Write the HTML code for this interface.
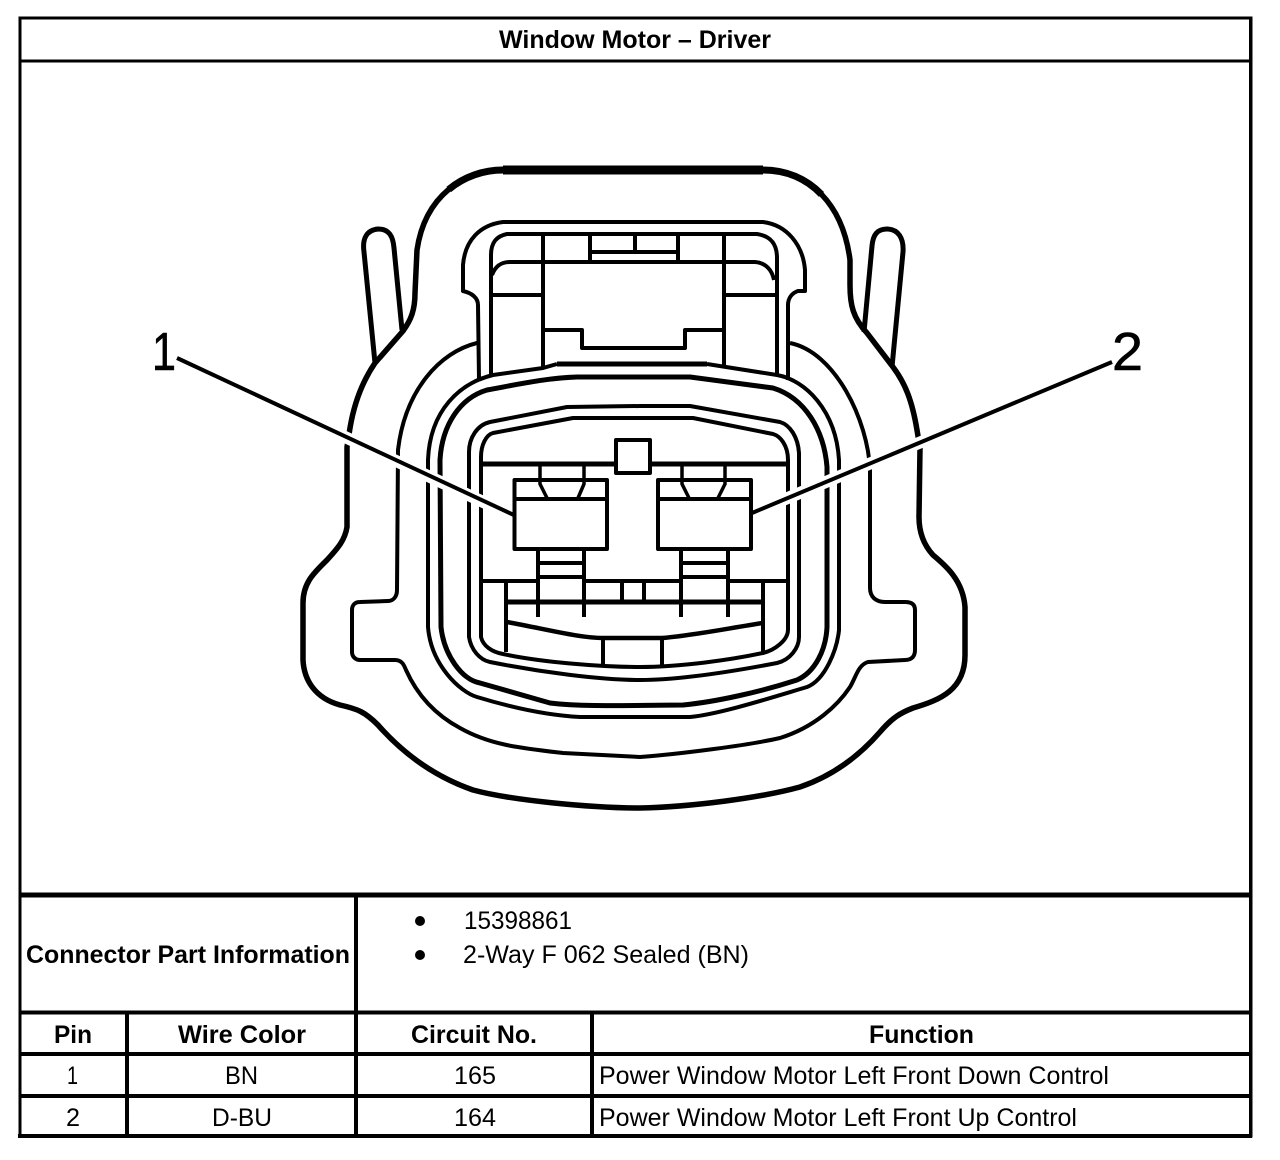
<!DOCTYPE html>
<html>
<head>
<meta charset="utf-8">
<style>
html,body{margin:0;padding:0;background:#fff;}
svg{display:block;}
text{font-family:"Liberation Sans",Arial,sans-serif;fill:#000;}
.b{font-weight:bold;font-size:25px;}
.r{font-size:25px;}
.d{fill:none;stroke:#000;stroke-linejoin:round;stroke-linecap:butt;}
</style>
</head>
<body>
<svg xmlns="http://www.w3.org/2000/svg" width="1280" height="1160" viewBox="0 0 1280 1160">
<rect width="1280" height="1160" fill="#fff"/>

<!-- connector drawing -->
<g class="d" stroke-width="4">
  <!-- outer body -->
  <path stroke-width="5.500" d="M503,170 C465,170 425,195 417,250 L415,293 C415,310 411,320 403,331 L375,363 C360,385 353,410 350,428 L347,447 L347,527 C345,540 338,548 327,560 C315,572 303,582 303,603 L303,660 C304,680 315,698 340,705 C358,709 365,712 378,725 C400,750 430,775 473,790 C510,800 590,808 640,808 C690,807 760,798 800,787 C835,775 860,755 880,732 C892,718 900,713 913,708 C940,700 965,690 965,655 L965,607 C963,580 945,565 933,555 C922,543 919,530 919,517 L920,448 L917,430 C912,400 905,383 893,367 L867,333 C853,318 850,305 850,285 L850,260 C843,205 810,170 763,170 Z"/>
  <line x1="503" y1="170" x2="763" y2="170" stroke-width="9"/>
  <path stroke-width="7" d="M503,170 C484,170 464.500,176.250 448.750,189.400"/>
  <path stroke-width="7" d="M763,170 C786.500,170 806.500,178.750 821.500,194.400"/>
  <!-- ears -->
  <path stroke-width="5" d="M375,363 L364,252 C362,238 367,230 378,229 C389,229 393,236 394,248 L402,330"/>
  <path stroke-width="5" d="M892,367 L903,252 C904,238 898,229 887,229 C877,229 873,235 872,246 L864,332"/>
  <!-- shroud -->
  <path d="M479,380 L478,305 C478,298 472,293 463,291 L463,265 C465,240 480,225 503,222 L763,222 C787,225 803,245 805,270 L805,291 L798,291 C792,293 788,298 788,305 L788,380"/>
  <path d="M491,375 L491,255 C491,242 497,236 507,234 L757,234 C770,236 777,243 777,258 L777,375"/>
  <path d="M492,275 C495,267 500,262 510,262 L755,262 C766,263 772,270 774,280"/>
  <line x1="491" y1="295" x2="543" y2="295"/>
  <line x1="724" y1="295" x2="777" y2="295"/>
  <line x1="543" y1="234" x2="543" y2="368"/>
  <line x1="724" y1="234" x2="724" y2="368"/>
  <line x1="590" y1="234" x2="590" y2="262"/>
  <line x1="678" y1="234" x2="678" y2="262"/>
  <line x1="590" y1="252" x2="678" y2="252"/>
  <line x1="635" y1="234" x2="635" y2="252"/>
  <polyline points="543,330 582,330 582,348 685,348 685,330 724,330"/>
  <!-- flange arc -->
  <path d="M477,343 C440,352 405,390 398,450 L397,590 C397,597 393,601 388,601 L360,602 C355,602 352,605 352,610 L352,652 C352,657 356,660 360,660 L395,660 C402,660 404,665 406,670 C415,690 430,712 460,728 C490,745 520,748 563,753 L640,757 C680,754 750,745 780,738 C815,727 838,705 850,687 C856,677 858,665 868,662 L905,660 C912,660 915,656 915,650 L915,610 C915,604 911,602 905,602 L885,602 C876,602 870,597 870,588 L870,470 C868,420 835,352 790,343"/>
  <!-- seal curves -->
  <line x1="557" y1="364" x2="707" y2="364" stroke-width="5"/>
  <path d="M557,364 L543,368 L493,375 C460,383 430,410 428,460 L428,627 C431,665 460,692 477,697 C500,704 540,715 580,717 L690,717 C720,714 770,698 807,687 C825,680 837,650 839,630 L839,460 C836,410 805,380 777,375 L707,364"/>
  <path stroke-width="5" d="M690,377 L577,377 C545,378 515,385 487,390 C460,398 442,425 440,460 L441,627 C444,655 462,680 480,683 L550,703 C575,706 600,706 683,705 C715,702 760,692 797,680 C815,672 826,650 827,627 L827,467 C824,430 805,398 773,388 Z"/>
  <path d="M640,406 L567,407 L490,422 C477,425 469,438 469,452 L469,637 C471,650 480,660 490,662 C540,672 600,680 640,680 C680,680 730,672 777,663 C790,660 799,648 799,637 L799,453 C798,437 790,425 780,422 L690,406 Z"/>
  <path d="M640,418 L573,418 L493,433 C486,435 481,445 481,457 L481,637 C483,646 492,652 503,654 C540,662 600,667 640,667 C680,667 730,660 763,653 C775,650 788,640 788,630 L788,460 C788,445 780,436 773,434 L693,418 Z"/>
  <!-- interior -->
  <line x1="481" y1="464" x2="788" y2="464" stroke-width="5"/>
  <line x1="481" y1="581" x2="538" y2="581"/>
  <line x1="584" y1="581" x2="681" y2="581"/>
  <line x1="728" y1="581" x2="788" y2="581"/>
  <line x1="506" y1="602" x2="763" y2="602" stroke-width="5"/>
  <line x1="506" y1="581" x2="506" y2="652"/>
  <line x1="763" y1="581" x2="763" y2="652"/>
  <line x1="622" y1="581" x2="622" y2="602"/>
  <line x1="644" y1="581" x2="644" y2="602"/>
  <path stroke-width="4.500" d="M507,622 C550,630 580,638 603,638 L662,638 C690,636 730,628 763,623"/>
  <line x1="603" y1="638" x2="603" y2="665"/>
  <line x1="662" y1="638" x2="662" y2="665"/>
  <line x1="538" y1="549" x2="538" y2="617"/>
  <line x1="584" y1="549" x2="584" y2="617"/>
  <line x1="681" y1="549" x2="681" y2="617"/>
  <line x1="728" y1="549" x2="728" y2="617"/>
  <line x1="538" y1="563" x2="584" y2="563"/>
  <line x1="538" y1="577" x2="584" y2="577"/>
  <line x1="681" y1="563" x2="728" y2="563"/>
  <line x1="681" y1="577" x2="728" y2="577"/>
</g>

<!-- leaders -->
<g fill="none">
  <line x1="177" y1="358" x2="513" y2="516" stroke="#fff" stroke-width="12"/>
  <line x1="1112" y1="362" x2="752" y2="513" stroke="#fff" stroke-width="12"/>
  <line x1="177" y1="358" x2="516" y2="516" stroke="#000" stroke-width="4"/>
  <line x1="1112" y1="362" x2="752" y2="513" stroke="#000" stroke-width="4"/>
</g>

<!-- pin boxes + key -->
<g class="d" stroke-width="4">
  <rect x="616" y="440" width="34" height="33" fill="#fff"/>
  <rect x="514.500" y="480" width="92.500" height="69" fill="#fff"/>
  <rect x="658" y="480" width="93" height="69" fill="#fff"/>
  <line x1="514" y1="499" x2="607" y2="499"/>
  <line x1="658" y1="499" x2="751" y2="499"/>
  <polyline stroke-width="3.500" points="540,464 540,484 547,498"/>
  <polyline stroke-width="3.500" points="584,464 584,484 578,498"/>
  <polyline stroke-width="3.500" points="682,464 682,484 689,498"/>
  <polyline stroke-width="3.500" points="725,464 725,484 718,498"/>
</g>

<!-- table frame -->
<g stroke="#000" fill="none">
  <rect x="20" y="18" width="1231" height="1118" stroke-width="3"/>
  <line x1="19" y1="61" x2="1251" y2="61" stroke-width="3"/>
  <line x1="19" y1="895" x2="1251" y2="895" stroke-width="5"/>
  <line x1="19" y1="1012.500" x2="1251" y2="1012.500" stroke-width="4"/>
  <line x1="19" y1="1054" x2="1251" y2="1054" stroke-width="4"/>
  <line x1="19" y1="1096" x2="1251" y2="1096" stroke-width="4"/>
  <line x1="356" y1="895" x2="356" y2="1136" stroke-width="4"/>
  <line x1="127" y1="1012" x2="127" y2="1136" stroke-width="4"/>
  <line x1="592" y1="1012" x2="592" y2="1136" stroke-width="4"/>
</g>
<rect x="18" y="1134" width="1234" height="4" fill="#000"/>
<rect x="1249" y="17" width="3" height="1120" fill="#000"/>

<!-- text -->
<text class="b" x="499" y="48" textLength="272" lengthAdjust="spacingAndGlyphs">Window Motor – Driver</text>
<text x="152" y="370" font-size="54" stroke="#000" stroke-width="0.600" textLength="24" lengthAdjust="spacingAndGlyphs">1</text>
<text x="1112" y="370" font-size="54" stroke="#000" stroke-width="0.600" textLength="31" lengthAdjust="spacingAndGlyphs">2</text>

<text class="b" x="26" y="963" textLength="324" lengthAdjust="spacingAndGlyphs">Connector Part Information</text>
<circle cx="420" cy="921" r="5" fill="#000"/>
<circle cx="420" cy="955" r="5" fill="#000"/>
<text class="r" x="464" y="929" textLength="108" lengthAdjust="spacingAndGlyphs">15398861</text>
<text class="r" x="463" y="963" textLength="286" lengthAdjust="spacingAndGlyphs">2-Way F 062 Sealed (BN)</text>

<text class="b" x="54" y="1043" textLength="38" lengthAdjust="spacingAndGlyphs">Pin</text>
<text class="b" x="178" y="1043" textLength="128" lengthAdjust="spacingAndGlyphs">Wire Color</text>
<text class="b" x="411" y="1043" textLength="126" lengthAdjust="spacingAndGlyphs">Circuit No.</text>
<text class="b" x="869" y="1043" textLength="105" lengthAdjust="spacingAndGlyphs">Function</text>

<text class="r" x="67" y="1084" textLength="11" lengthAdjust="spacingAndGlyphs">1</text>
<text class="r" x="225" y="1084" textLength="33" lengthAdjust="spacingAndGlyphs">BN</text>
<text class="r" x="454" y="1084" textLength="42" lengthAdjust="spacingAndGlyphs">165</text>
<text class="r" x="599" y="1084" textLength="510" lengthAdjust="spacingAndGlyphs">Power Window Motor Left Front Down Control</text>

<text class="r" x="66" y="1126" textLength="14" lengthAdjust="spacingAndGlyphs">2</text>
<text class="r" x="212" y="1126" textLength="60" lengthAdjust="spacingAndGlyphs">D-BU</text>
<text class="r" x="454" y="1126" textLength="42" lengthAdjust="spacingAndGlyphs">164</text>
<text class="r" x="599" y="1126" textLength="478" lengthAdjust="spacingAndGlyphs">Power Window Motor Left Front Up Control</text>
</svg>
</body>
</html>
